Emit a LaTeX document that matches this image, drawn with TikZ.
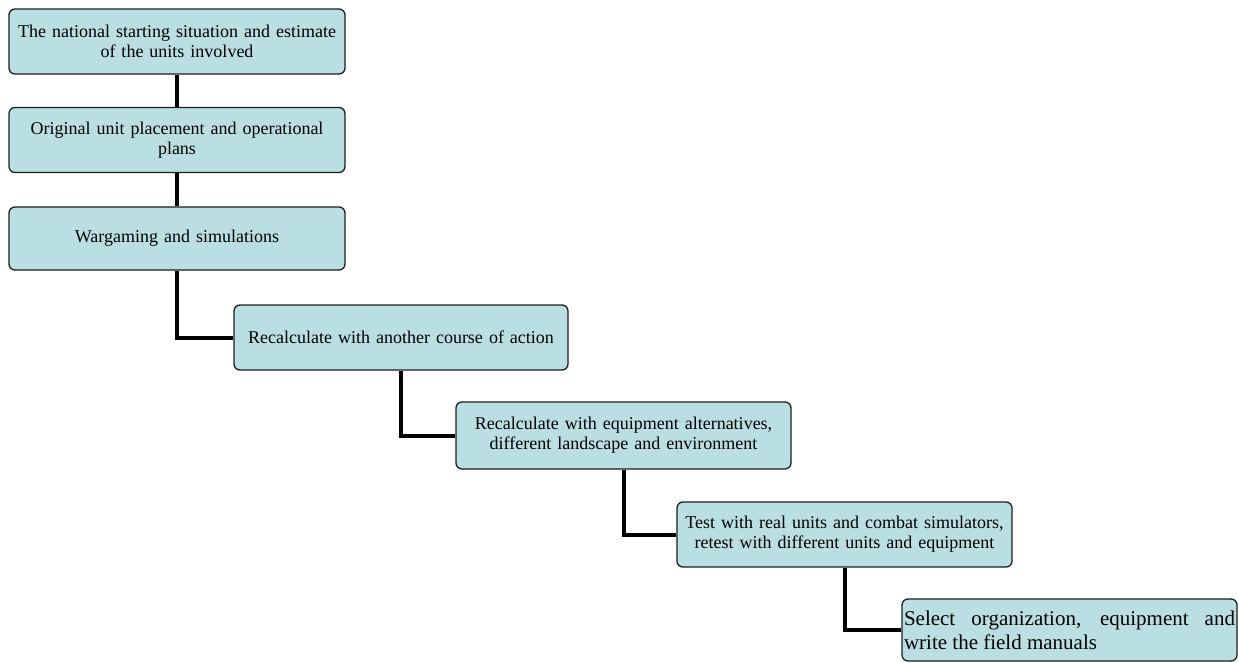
\documentclass[tikz,border=0pt]{standalone}
\usepackage{fontspec}
\setmainfont{Liberation Serif}
\begin{document}
\definecolor{boxfill}{RGB}{186,223,226}
\definecolor{boxline}{RGB}{30,30,30}
\begin{tikzpicture}[x=1pt,y=-1pt,
  stepbox/.style={draw=boxline, line width=1.3pt, fill=boxfill, rounded corners=6pt,
    minimum height=65pt, inner sep=0pt, align=center,
    font=\fontsize{18}{20}\selectfont},
  wide/.style={minimum width=336pt, text width=328pt},
  link/.style={line width=4pt, black}]
\useasboundingbox (0,0) rectangle (1239,663);
% the chain of steps, stepping down to the right
\node[stepbox, wide] (b1) at (177,41.5) {The national starting situation and estimate\\of the units involved};
\node[stepbox, wide] (b2) at (177,140) {Original unit placement and operational\\plans};
\node[stepbox, wide, minimum height=63pt] (b3) at (177,238.5) {Wargaming and simulations};
\node[stepbox, wide, minimum width=334pt] (b4) at (401,337.5) {Recalculate with another course of action};
\node[stepbox, wide, minimum width=335pt, minimum height=67pt] (b5) at (623.5,435.5) {Recalculate with equipment alternatives,\\different landscape and environment};
\node[stepbox, wide, minimum width=335pt] (b6) at (844.5,534.5) {Test with real units and combat simulators,\\retest with different units and equipment};
\node[stepbox, minimum width=335pt, minimum height=62pt, text width=331pt, align=justify,
  font=\fontsize{21}{24}\selectfont] (b7) at (1069.5,630) {Select organization, equipment and write the field manuals};
% elbow connectors between consecutive steps
\draw[link] (b1.south) -- (b2.north);
\draw[link] (b2.south) -- (b3.north);
\draw[link] (b3.south) |- (b4.west);
\draw[link] (b4.south) |- (b5.west);
\draw[link] (b5.south) |- (b6.west);
\draw[link] (b6.south) |- (b7.west);
\end{tikzpicture}
\end{document}
